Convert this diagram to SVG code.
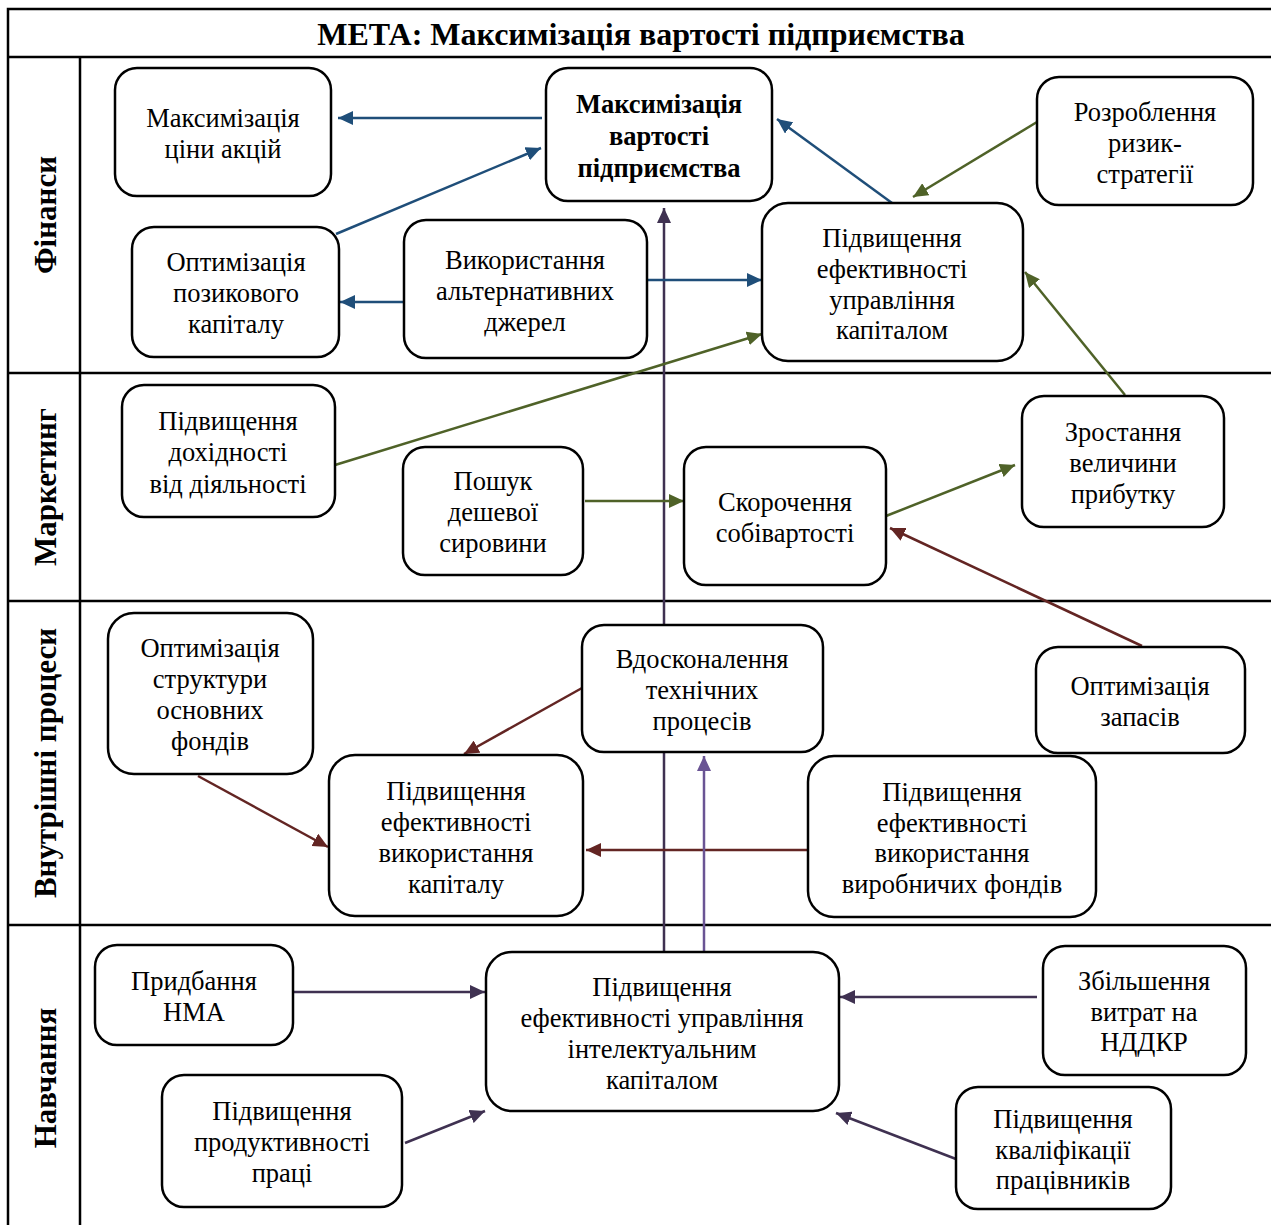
<svg xmlns="http://www.w3.org/2000/svg" width="1271" height="1225" viewBox="0 0 1271 1225">
<style>
.frame{fill:none;stroke:#000;stroke-width:2.5}
.node rect{fill:#fff;stroke:#000;stroke-width:2.5}
.node text{font-family:"Liberation Serif","Times New Roman",serif;font-size:26.5px;text-anchor:middle;fill:#000}
.node text.b{font-weight:bold}
.lane{font-family:"Liberation Serif","Times New Roman",serif;font-size:31px;font-weight:bold;text-anchor:middle;fill:#000}
.title{font-family:"Liberation Serif","Times New Roman",serif;font-size:32px;font-weight:bold;text-anchor:middle;fill:#000}
.c{fill:none;stroke-width:2.5}
.bl{stroke:#1F4E79}
.gr{stroke:#4F6228}
.rd{stroke:#632523}
.pu{stroke:#3F3151}
.pl{stroke:#6A5494}
</style>
<defs>
<marker id="ab" markerUnits="userSpaceOnUse" markerWidth="16" markerHeight="14" refX="15" refY="7" orient="auto"><path d="M0,0 L15,7 L0,14 z" fill="#1F4E79"/></marker>
<marker id="ag" markerUnits="userSpaceOnUse" markerWidth="16" markerHeight="14" refX="15" refY="7" orient="auto"><path d="M0,0 L15,7 L0,14 z" fill="#4F6228"/></marker>
<marker id="ar" markerUnits="userSpaceOnUse" markerWidth="16" markerHeight="14" refX="15" refY="7" orient="auto"><path d="M0,0 L15,7 L0,14 z" fill="#632523"/></marker>
<marker id="ap" markerUnits="userSpaceOnUse" markerWidth="16" markerHeight="14" refX="15" refY="7" orient="auto"><path d="M0,0 L15,7 L0,14 z" fill="#3F3151"/></marker>
<marker id="al" markerUnits="userSpaceOnUse" markerWidth="16" markerHeight="14" refX="15" refY="7" orient="auto"><path d="M0,0 L15,7 L0,14 z" fill="#6A5494"/></marker>
</defs>
<rect x="0" y="0" width="1271" height="1225" fill="#fff"/>
<g id="frame">
<rect class="frame" x="8" y="9" width="1270" height="1230"/>
<line class="frame" x1="8" y1="57" x2="1271" y2="57"/>
<line class="frame" x1="8" y1="373" x2="1271" y2="373"/>
<line class="frame" x1="8" y1="601" x2="1271" y2="601"/>
<line class="frame" x1="8" y1="925" x2="1271" y2="925"/>
<line class="frame" x1="80" y1="57" x2="80" y2="1225"/>
<text class="title" x="641" y="45">МЕТА: Максимізація вартості підприємства</text>
<text class="lane" transform="translate(56,215) rotate(-90)">Фінанси</text>
<text class="lane" transform="translate(56,487) rotate(-90)">Маркетинг</text>
<text class="lane" transform="translate(56,763) rotate(-90)">Внутрішні процеси</text>
<text class="lane" transform="translate(56,1078) rotate(-90)">Навчання</text>
</g>
<g id="connectors">
<line class="c pu" x1="664" y1="952" x2="664" y2="208" marker-end="url(#ap)"/>
<line class="c bl" x1="542" y1="118" x2="338" y2="118" marker-end="url(#ab)"/>
<line class="c bl" x1="336" y1="234" x2="541" y2="148" marker-end="url(#ab)"/>
<line class="c bl" x1="404" y1="302" x2="340" y2="302" marker-end="url(#ab)"/>
<line class="c bl" x1="647" y1="280" x2="762" y2="280" marker-end="url(#ab)"/>
<line class="c bl" x1="892" y1="203" x2="777" y2="119" marker-end="url(#ab)"/>
<line class="c gr" x1="1037" y1="122" x2="913" y2="197" marker-end="url(#ag)"/>
<line class="c gr" x1="335" y1="465" x2="762" y2="334" marker-end="url(#ag)"/>
<line class="c gr" x1="1125" y1="395" x2="1025" y2="272" marker-end="url(#ag)"/>
<line class="c gr" x1="585" y1="501" x2="684" y2="501" marker-end="url(#ag)"/>
<line class="c gr" x1="886" y1="516" x2="1015" y2="465" marker-end="url(#ag)"/>
<line class="c rd" x1="1142" y1="646" x2="890" y2="528" marker-end="url(#ar)"/>
<line class="c rd" x1="582" y1="688" x2="464" y2="754" marker-end="url(#ar)"/>
<line class="c rd" x1="198" y1="776" x2="328" y2="847" marker-end="url(#ar)"/>
<line class="c rd" x1="808" y1="850" x2="586" y2="850" marker-end="url(#ar)"/>
<line class="c pu" x1="293" y1="992" x2="485" y2="992" marker-end="url(#ap)"/>
<line class="c pu" x1="1037" y1="997" x2="840" y2="997" marker-end="url(#ap)"/>
<line class="c pu" x1="405" y1="1143" x2="485" y2="1111" marker-end="url(#ap)"/>
<line class="c pu" x1="956" y1="1159" x2="836" y2="1113" marker-end="url(#ap)"/>
<line class="c pl" x1="704" y1="952" x2="704" y2="756" marker-end="url(#al)"/>
</g>
<g id="n1" class="node"><rect x="115" y="68" width="216" height="128" rx="22"/><text x="223" y="127">Максимізація</text><text x="223" y="158">ціни акцій</text></g>
<g id="n2" class="node"><rect x="546" y="68" width="226" height="133" rx="22"/><text class="b" x="659" y="113">Максимізація</text><text class="b" x="659" y="145">вартості</text><text class="b" x="659" y="177">підприємства</text></g>
<g id="n3" class="node"><rect x="1037" y="77" width="216" height="128" rx="22"/><text x="1145" y="121">Розроблення</text><text x="1145" y="152">ризик-</text><text x="1145" y="183">стратегії</text></g>
<g id="n4" class="node"><rect x="132" y="227" width="207" height="130" rx="22"/><text x="236" y="271">Оптимізація</text><text x="236" y="302">позикового</text><text x="236" y="333">капіталу</text></g>
<g id="n5" class="node"><rect x="404" y="220" width="243" height="138" rx="22"/><text x="525" y="269">Використання</text><text x="525" y="300">альтернативних</text><text x="525" y="331">джерел</text></g>
<g id="n6" class="node"><rect x="762" y="203" width="261" height="158" rx="26"/><text x="892" y="247">Підвищення</text><text x="892" y="278">ефективності</text><text x="892" y="309">управління</text><text x="892" y="339">капіталом</text></g>
<g id="n7" class="node"><rect x="122" y="385" width="213" height="132" rx="22"/><text x="228" y="430">Підвищення</text><text x="228" y="461">дохідності</text><text x="228" y="493">від діяльності</text></g>
<g id="n8" class="node"><rect x="403" y="447" width="180" height="128" rx="22"/><text x="493" y="490">Пошук</text><text x="493" y="521">дешевої</text><text x="493" y="552">сировини</text></g>
<g id="n9" class="node"><rect x="684" y="447" width="202" height="138" rx="22"/><text x="785" y="511">Скорочення</text><text x="785" y="542">собівартості</text></g>
<g id="n10" class="node"><rect x="1022" y="396" width="202" height="131" rx="22"/><text x="1123" y="441">Зростання</text><text x="1123" y="472">величини</text><text x="1123" y="503">прибутку</text></g>
<g id="n11" class="node"><rect x="108" y="613" width="205" height="161" rx="26"/><text x="210" y="657">Оптимізація</text><text x="210" y="688">структури</text><text x="210" y="719">основних</text><text x="210" y="750">фондів</text></g>
<g id="n12" class="node"><rect x="582" y="625" width="241" height="127" rx="22"/><text x="702" y="668">Вдосконалення</text><text x="702" y="699">технічних</text><text x="702" y="730">процесів</text></g>
<g id="n13" class="node"><rect x="1036" y="647" width="209" height="106" rx="22"/><text x="1140" y="695">Оптимізація</text><text x="1140" y="726">запасів</text></g>
<g id="n14" class="node"><rect x="329" y="755" width="254" height="161" rx="26"/><text x="456" y="800">Підвищення</text><text x="456" y="831">ефективності</text><text x="456" y="862">використання</text><text x="456" y="893">капіталу</text></g>
<g id="n15" class="node"><rect x="808" y="756" width="288" height="161" rx="26"/><text x="952" y="801">Підвищення</text><text x="952" y="832">ефективності</text><text x="952" y="862">використання</text><text x="952" y="893">виробничих фондів</text></g>
<g id="n16" class="node"><rect x="95" y="945" width="198" height="100" rx="22"/><text x="194" y="990">Придбання</text><text x="194" y="1021">НМА</text></g>
<g id="n17" class="node"><rect x="486" y="952" width="353" height="159" rx="26"/><text x="662" y="996">Підвищення</text><text x="662" y="1027">ефективності управління</text><text x="662" y="1058">інтелектуальним</text><text x="662" y="1089">капіталом</text></g>
<g id="n18" class="node"><rect x="1043" y="946" width="203" height="129" rx="22"/><text x="1144" y="990">Збільшення</text><text x="1144" y="1021">витрат на</text><text x="1144" y="1051">НДДКР</text></g>
<g id="n19" class="node"><rect x="162" y="1075" width="240" height="132" rx="22"/><text x="282" y="1120">Підвищення</text><text x="282" y="1151">продуктивності</text><text x="282" y="1182">праці</text></g>
<g id="n20" class="node"><rect x="956" y="1087" width="215" height="122" rx="22"/><text x="1063" y="1128">Підвищення</text><text x="1063" y="1159">кваліфікації</text><text x="1063" y="1189">працівників</text></g>
</svg>
